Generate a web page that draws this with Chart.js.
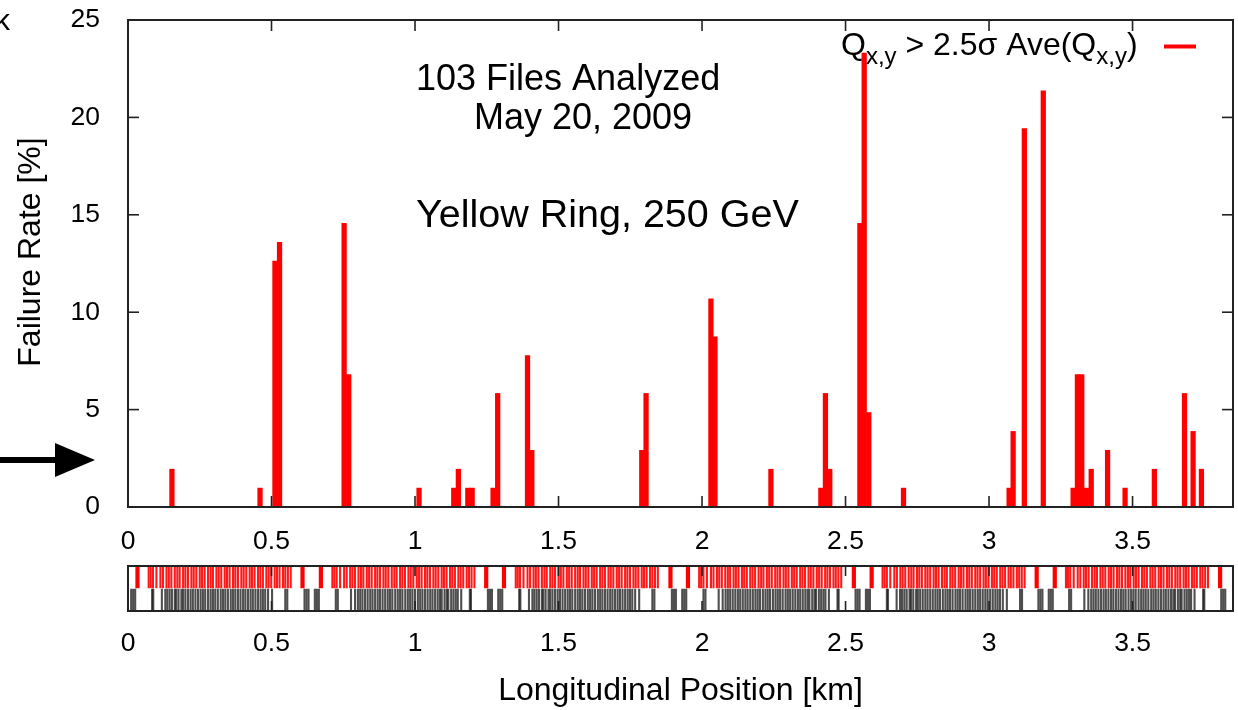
<!DOCTYPE html>
<html>
<head>
<meta charset="utf-8">
<script src="https://cdn.jsdelivr.net/npm/chart.js@4.4.1/dist/chart.umd.min.js"></script>
<style>
body { margin: 0; background: #fff; }
#wrap { position: relative; width: 1238px; height: 710px; overflow: hidden; }
canvas { position: absolute; left: 0; }
#top { top: 0; }
#strip { top: 560px; }
</style>
</head>
<body>
<div id="wrap">
<canvas id="top" width="1238" height="560"></canvas>
<canvas id="strip" width="1238" height="150"></canvas>
</div>
<script>
// failure rate per BPM bin, position in km
var positions = [0.153, 0.460, 0.512, 0.528, 0.753, 0.769, 1.014, 1.135, 1.151, 1.184, 1.199, 1.272, 1.288, 1.392, 1.407,
	1.790, 1.805, 2.031, 2.045, 2.240, 2.414, 2.430, 2.445, 2.550, 2.565, 2.581, 2.702, 3.070, 3.084, 3.123, 3.189,
	3.293, 3.308, 3.323, 3.339, 3.356, 3.413, 3.474, 3.576, 3.681, 3.711, 3.740];
var failureRate = [1.94, 0.97, 12.62, 13.59, 14.56, 6.80, 0.97, 0.97, 1.94, 0.97, 0.97, 0.97, 5.83, 7.77, 2.91,
	2.91, 5.83, 10.68, 8.74, 1.94, 0.97, 5.83, 1.94, 14.56, 23.30, 4.85, 0.97, 0.97, 3.88, 19.42, 21.36,
	0.97, 6.80, 6.80, 0.97, 1.94, 2.91, 0.97, 1.94, 5.83, 3.88, 1.94];

var xTicks = [0, 0.5, 1, 1.5, 2, 2.5, 3, 3.5];
var yTicks = [0, 5, 10, 15, 20, 25];

// BPM marks in the strip below, in metres
var bpmRed = [72,79,87,99,113,122,134,142,151,163,172,180,192,200,209,221,229,238,250,258,267,279,288,296,308,316,325,337,345,354,366,374,383,395,403,412,424,432,441,453,461,470,482,490,499,511,519,528,540,548,557,567,
	712,719,727,739,753,762,774,782,791,803,812,820,832,840,849,861,869,878,890,898,907,919,928,936,948,956,965,977,985,994,1006,1014,1023,1035,1043,1052,1064,1072,1081,1093,1101,1110,1122,1130,1139,1151,1159,1168,1180,1188,1197,1207,
	1351,1358,1366,1378,1392,1401,1413,1421,1430,1442,1451,1459,1471,1479,1488,1500,1508,1517,1529,1537,1546,1558,1567,1575,1587,1595,1604,1616,1624,1633,1645,1653,1662,1674,1682,1691,1703,1711,1720,1732,1740,1749,1761,1769,1778,1790,1798,1807,1819,1827,1836,1846,
	1990,1997,2005,2017,2031,2040,2052,2060,2069,2081,2090,2098,2110,2118,2127,2139,2147,2156,2168,2176,2185,2197,2206,2214,2226,2234,2243,2255,2263,2272,2284,2292,2301,2313,2321,2330,2342,2350,2359,2371,2379,2388,2400,2408,2417,2429,2437,2446,2458,2466,2475,2485,
	2629,2636,2644,2656,2670,2679,2691,2699,2708,2720,2729,2737,2749,2757,2766,2778,2786,2795,2807,2815,2824,2836,2845,2853,2865,2873,2882,2894,2902,2911,2923,2931,2940,2952,2960,2969,2981,2989,2998,3010,3018,3027,3039,3047,3056,3068,3076,3085,3097,3105,3114,3124,
	3268,3275,3283,3295,3309,3318,3330,3338,3347,3359,3368,3376,3388,3396,3405,3417,3425,3434,3446,3454,3463,3475,3484,3492,3504,3512,3521,3533,3541,3550,3562,3570,3579,3591,3599,3608,3620,3628,3637,3649,3657,3666,3678,3686,3695,3707,3715,3724,3736,3744,3753,3763];
var bpmRedIR = [33, 608, 672, 1248, 1310, 1890, 1951, 2529, 2591, 3166, 3229, 3805];
var bpmBlack = [11,18,25,
	84,88,118,130,137,145,153,163,168,176,186,192,200,209,218,226,235,244,253,261,269,279,288,296,304,313,323,331,339,348,358,366,374,383,392,401,409,418,427,435,444,453,462,470,478,488,502,548,555,
	615,622,629,651,658,665,
	724,731,777,791,801,809,817,826,835,844,852,861,870,878,887,896,905,913,921,931,940,948,956,966,975,983,991,1000,1010,1018,1026,1035,1044,1053,1061,1070,1079,1087,1093,1103,1111,1116,1126,1134,1142,1149,1161,1191,1195,
	1254,1261,1268,1290,1297,1304,
	1363,1367,1397,1409,1416,1424,1432,1442,1447,1455,1465,1471,1479,1488,1497,1505,1514,1523,1532,1540,1548,1558,1567,1575,1583,1592,1602,1610,1618,1627,1637,1645,1653,1662,1671,1680,1688,1697,1706,1714,1723,1732,1741,1749,1757,1767,1781,1827,1834,
	1895,1902,1909,1931,1938,1945,
	2005,2012,2058,2072,2082,2090,2098,2107,2116,2125,2133,2142,2151,2159,2168,2177,2186,2194,2202,2212,2221,2229,2237,2247,2256,2264,2272,2281,2291,2299,2307,2316,2325,2334,2342,2351,2360,2368,2374,2384,2392,2397,2407,2415,2423,2430,2442,2472,2476,
	2535,2542,2549,2571,2578,2585,
	2644,2648,2678,2690,2697,2705,2713,2723,2728,2736,2746,2752,2760,2769,2778,2786,2795,2804,2813,2821,2829,2839,2848,2856,2864,2873,2883,2891,2899,2908,2918,2926,2934,2943,2952,2961,2969,2978,2987,2995,3004,3013,3022,3030,3038,3048,3062,3108,3115,
	3172,3179,3186,3208,3215,3222,
	3279,3286,3332,3346,3356,3364,3372,3381,3390,3399,3407,3416,3425,3433,3442,3451,3460,3468,3476,3486,3495,3503,3511,3521,3530,3538,3546,3555,3565,3573,3581,3590,3599,3608,3616,3625,3634,3642,3648,3658,3666,3671,3681,3689,3697,3704,3716,3746,3750,
	3809,3816,3823];

var FONT = '"Liberation Sans", Arial, Helvetica, sans-serif';
Chart.defaults.font.family = FONT;
Chart.defaults.color = '#000';

function tickLine(c, x1, y1, x2, y2) {
	c.beginPath();
	c.moveTo(x1, y1);
	c.lineTo(x2, y2);
	c.stroke();
}

var topFrame = {
	id: 'topFrame',
	afterDatasetsDraw: function (chart) {
		var c = chart.ctx, a = chart.chartArea;
		var xs = chart.scales.x, ys = chart.scales.y;
		c.save();
		c.strokeStyle = '#222';
		c.lineWidth = 1.6;
		xTicks.forEach(function (v) {
			var p = xs.getPixelForValue(v);
			tickLine(c, p, a.bottom, p, a.bottom - 11);
			tickLine(c, p, a.top, p, a.top + 11);
		});
		yTicks.forEach(function (v) {
			var p = ys.getPixelForValue(v);
			tickLine(c, a.left, p, a.left + 11, p);
			tickLine(c, a.right, p, a.right - 11, p);
		});
		c.lineWidth = 2;
		c.strokeRect(a.left, a.top, a.right - a.left, a.bottom - a.top);
		c.restore();
	},
	afterDraw: function (chart) {
		var c = chart.ctx;
		c.save();
		c.fillStyle = '#000';
		c.textBaseline = 'alphabetic';
		c.font = '36px ' + FONT;
		c.fillText('103 Files Analyzed', 416, 90);
		c.fillText('May 20, 2009', 474, 129);
		c.font = '39.5px ' + FONT;
		c.fillText('Yellow Ring, 250 GeV', 416, 227);

		// legend: Q_{x,y} > 2.5σ Ave(Q_{x,y})
		var x = 841, base = 55, sub = 64;
		var big = '32px ' + FONT, small = '24px ' + FONT;
		var parts = [['Q', big, base], ['x,y', small, sub], [' > 2.5\u03c3 Ave(Q', big, base], ['x,y', small, sub], [')', big, base]];
		parts.forEach(function (p) {
			c.font = p[1];
			c.fillText(p[0], x, p[2]);
			x += c.measureText(p[0]).width;
		});
		c.strokeStyle = '#ff0000';
		c.lineWidth = 4;
		tickLine(c, 1164, 46.5, 1196, 46.5);

		// y axis title
		c.save();
		c.translate(31, 252);
		c.rotate(-Math.PI / 2);
		c.font = '32px ' + FONT;
		c.textAlign = 'center';
		c.textBaseline = 'middle';
		c.fillText('Failure Rate [%]', 0, 0);
		c.restore();

		// arrow on the left
		c.fillStyle = '#000';
		c.fillRect(0, 457, 58, 6);
		c.beginPath();
		c.moveTo(55, 443);
		c.lineTo(95, 460);
		c.lineTo(55, 477);
		c.closePath();
		c.fill();

		c.font = '30px ' + FONT;
		c.fillText('\u03ba', -5, 30);
		c.restore();
	}
};

var stripFrame = {
	id: 'stripFrame',
	afterDatasetsDraw: function (chart) {
		var c = chart.ctx, a = chart.chartArea, xs = chart.scales.x;
		c.save();
		c.strokeStyle = '#222';
		c.lineWidth = 1.6;
		xTicks.forEach(function (v) {
			var p = xs.getPixelForValue(v);
			tickLine(c, p, a.bottom, p, a.bottom - 10);
			tickLine(c, p, a.top, p, a.top + 10);
		});
		c.lineWidth = 2;
		c.strokeRect(a.left, a.top, a.right - a.left, a.bottom - a.top);
		c.restore();
	}
};

var barData = positions.map(function (p, i) { return { x: p, y: failureRate[i] }; });

new Chart(document.getElementById('top').getContext('2d'), {
	type: 'bar',
	data: {
		datasets: [{
			label: 'Failure Rate',
			data: barData,
			backgroundColor: '#ff0000',
			borderWidth: 0,
			barThickness: 4.6
		}]
	},
	options: {
		responsive: false,
		animation: false,
		events: [],
		layout: { autoPadding: false, padding: { top: 20, right: 5, left: 0, bottom: 0 } },
		plugins: { legend: { display: false }, tooltip: { enabled: false } },
		scales: {
			x: {
				type: 'linear',
				min: 0,
				max: 3.85,
				offset: false,
				grid: { display: false },
				border: { display: false },
				afterBuildTicks: function (s) { s.ticks = xTicks.map(function (v) { return { value: v }; }); },
				afterFit: function (s) { s.height = 53; s.paddingLeft = 0; s.paddingRight = 0; },
				ticks: { font: { size: 26.5 }, padding: 11, maxRotation: 0, autoSkip: false, callback: function (v) { return String(v); } }
			},
			y: {
				min: 0,
				max: 25,
				grid: { display: false, drawTicks: false },
				border: { display: false },
				afterBuildTicks: function (s) { s.ticks = yTicks.map(function (v) { return { value: v }; }); },
				afterFit: function (s) { s.width = 128; s.paddingTop = 0; s.paddingBottom = 0; },
				ticks: { font: { size: 26.5 }, padding: 28 }
			}
		}
	},
	plugins: [topFrame]
});

function marks(list, y) {
	return list.map(function (m) { return { x: m / 1000, y: y }; });
}

new Chart(document.getElementById('strip').getContext('2d'), {
	type: 'scatter',
	data: {
		datasets: [{
			label: 'BPM',
			data: marks(bpmRed, 0.75),
			pointStyle: 'line',
			pointRotation: 90,
			pointRadius: 11,
			pointBorderWidth: 2.1,
			pointBorderColor: 'rgba(255,0,0,0.9)'
		}, {
			label: 'BPM IR',
			data: marks(bpmRedIR, 0.75),
			pointStyle: 'line',
			pointRotation: 90,
			pointRadius: 11,
			pointBorderWidth: 4.2,
			pointBorderColor: '#ff0000'
		}, {
			label: 'BPM all',
			data: marks(bpmBlack, 0.25),
			pointStyle: 'line',
			pointRotation: 90,
			pointRadius: 11,
			pointBorderWidth: 2.1,
			pointBorderColor: 'rgba(20,20,20,0.75)'
		}]
	},
	options: {
		responsive: false,
		animation: false,
		events: [],
		layout: { autoPadding: false, padding: { top: 6, right: 5, left: 128, bottom: 0 } },
		plugins: { legend: { display: false }, tooltip: { enabled: false } },
		scales: {
			x: {
				type: 'linear',
				min: 0,
				max: 3.85,
				grid: { display: false },
				border: { display: false },
				afterBuildTicks: function (s) { s.ticks = xTicks.map(function (v) { return { value: v }; }); },
				afterFit: function (s) { s.height = 99; s.paddingLeft = 0; s.paddingRight = 0; },
				ticks: { font: { size: 26.5 }, padding: 9, maxRotation: 0, autoSkip: false, callback: function (v) { return String(v); } },
				title: { display: true, text: 'Longitudinal Position [km]', font: { size: 32 }, padding: { top: 0, bottom: 0 } }
			},
			y: { display: false, min: 0, max: 1 }
		}
	},
	plugins: [stripFrame]
});
</script>
</body>
</html>
